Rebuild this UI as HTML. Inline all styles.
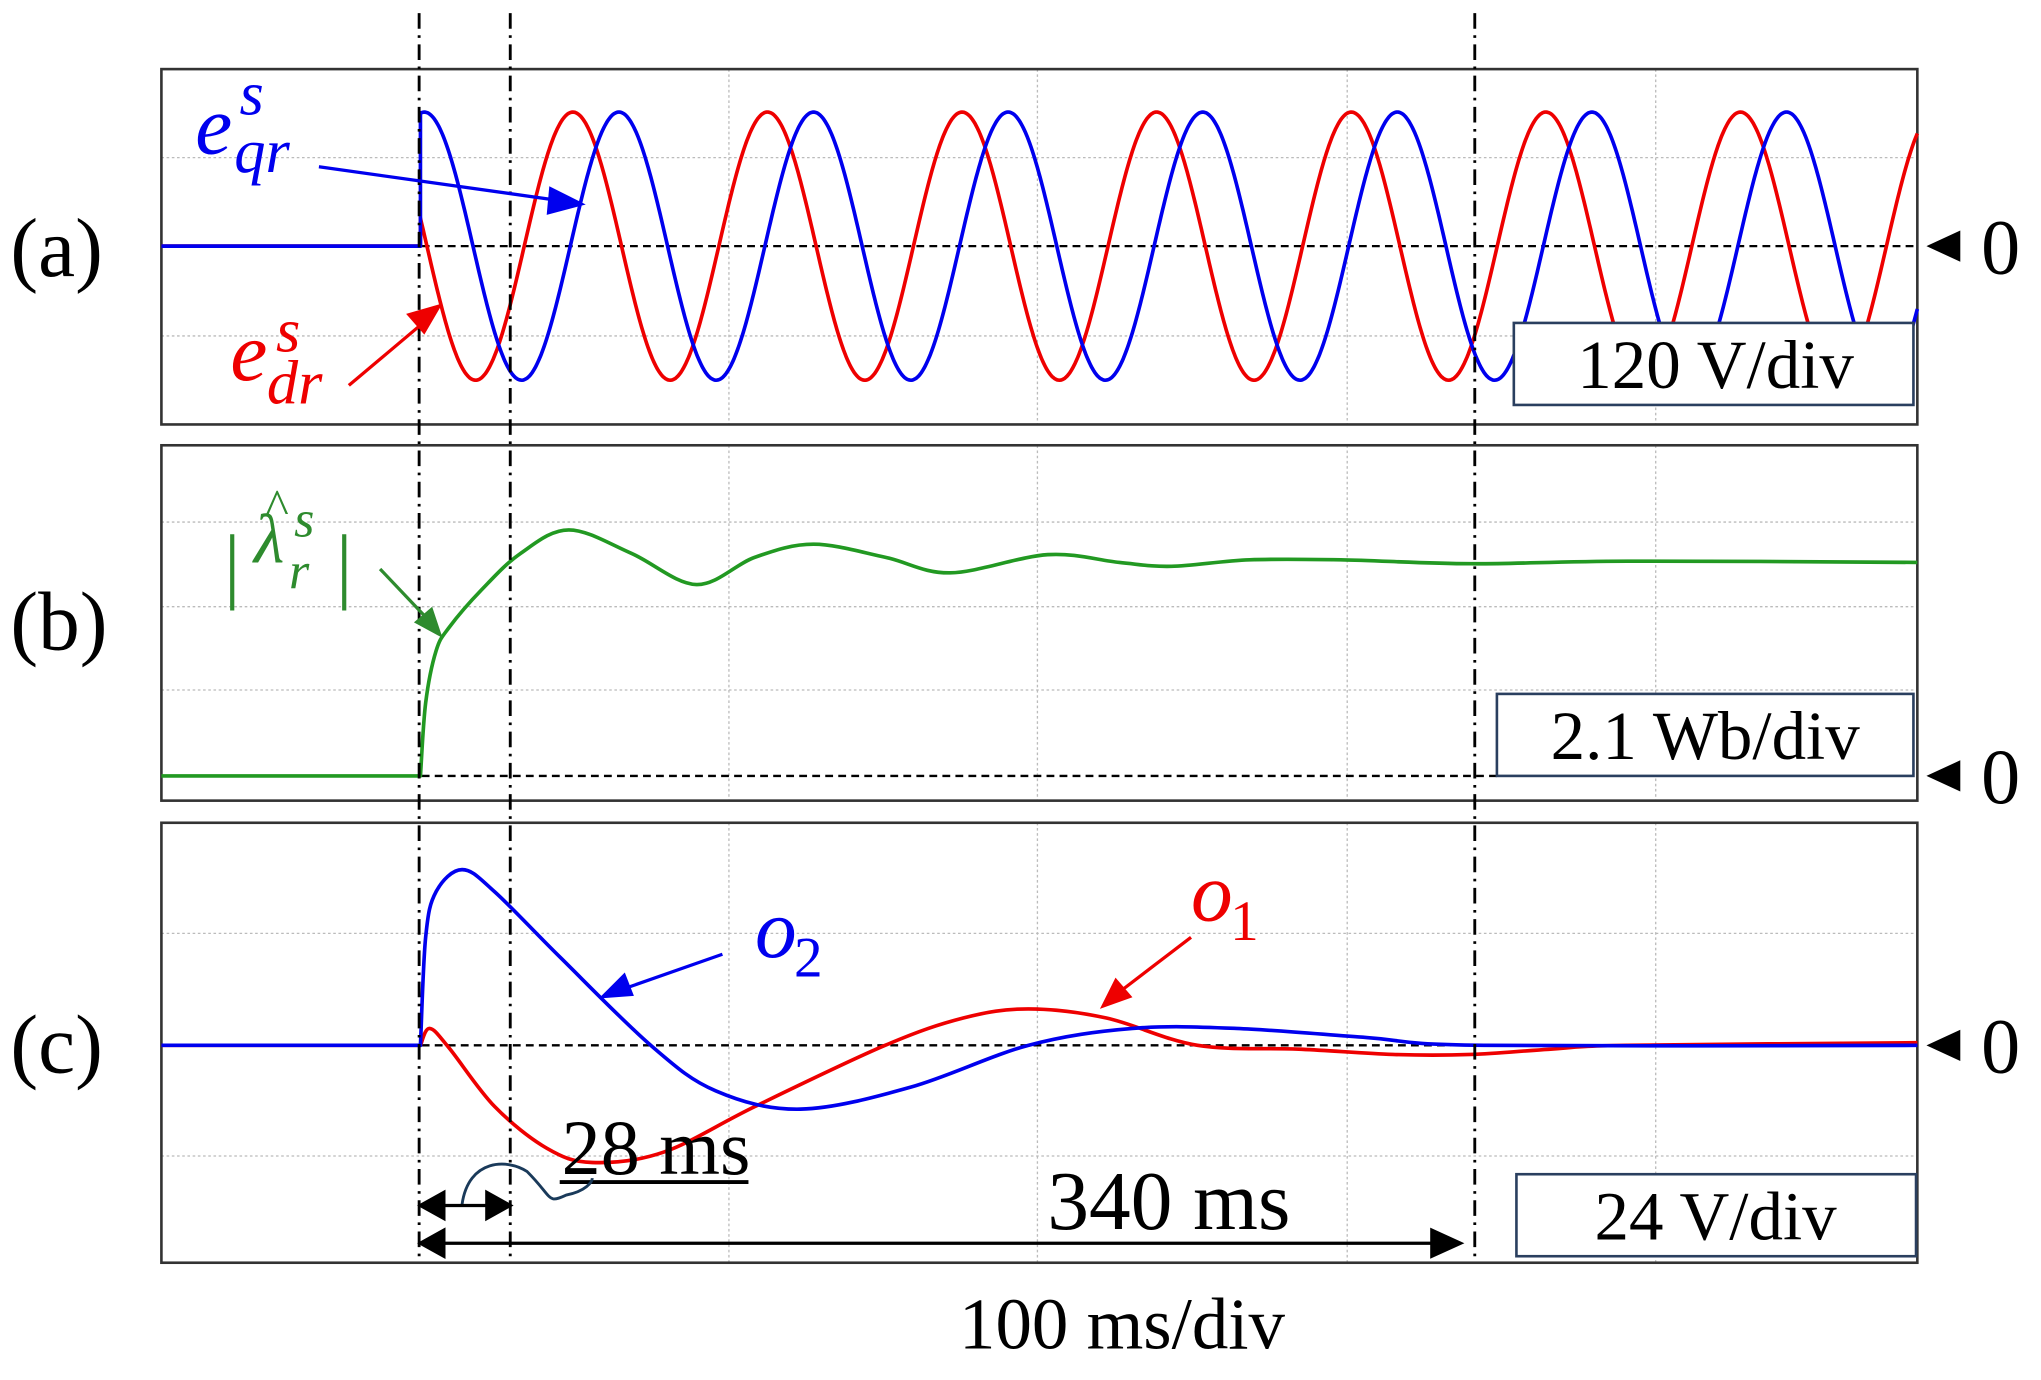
<!DOCTYPE html>
<html><head><meta charset="utf-8"><style>
html,body{margin:0;padding:0;background:#fff}
svg{display:block}
text{font-family:"Liberation Serif",serif}
</style></head><body>
<svg id="s" width="2041" height="1380" viewBox="0 0 1568 1060" xmlns="http://www.w3.org/2000/svg">
<g fill="none" stroke="#bbb" stroke-width="1" stroke-dasharray="2,2">
<path d="M124 121H1473M124 258H1473M124 401H1473M124 466H1473M124 530H1473M124 717H1473M124 888H1473"/>
<path d="M560 53V326M797 53V326M1035 53V326M1272 53V326M560 342V615M797 342V615M1035 342V615M1272 342V615M560 632V970M797 632V970M1035 632V970M1272 632V970"/>
</g>
<g fill="none" stroke="#000" stroke-width="1.8" stroke-dasharray="6,4">
<path d="M124 189H1473M124 596H1150M124 803H1473"/>
</g>
<g fill="none" stroke="#333" stroke-width="2">
<rect x="124" y="53" width="1349" height="273"/>
<rect x="124" y="342" width="1349" height="273"/>
<rect x="124" y="632" width="1349" height="338"/>
</g>
<g id="sig" fill="none" stroke-width="2.8" stroke-linejoin="round"></g>
<g fill="none" stroke="#000" stroke-width="2.2" stroke-dasharray="12,5,2,5">
<path d="M322 10V970M392 10V970M1133 10V970"/>
</g>
<g font-size="64" fill="#000">
<text x="8" y="212">(a)</text>
<text x="8" y="499">(b)</text>
<text x="8" y="824">(c)</text>
</g>
<g font-size="60">
<path d="M1480 189l26-12v24zM1480 596l26-12v24zM1480 803l26-12v24z" fill="#000"/>
<text x="1522" y="210">0</text>
<text x="1522" y="617">0</text>
<text x="1522" y="824">0</text>
</g>
<g fill="#fff" stroke="#2a3f5f" stroke-width="2">
<rect x="1163" y="248" width="307" height="63"/>
<rect x="1150" y="533" width="320" height="63"/>
<rect x="1165" y="902" width="307" height="63"/>
</g>
<g font-size="53" text-anchor="middle" fill="#000">
<text x="1318" y="298">120 V/div</text>
<text x="1310" y="583">2.1 Wb/div</text>
<text x="1318" y="952">24 V/div</text>
<text x="862" y="1036" font-size="56">100 ms/div</text>
<text x="898" y="944" font-size="64">340 ms</text>
<text x="504" y="902" font-size="60">28 ms</text>
</g>
<path d="M430 908H575" stroke="#000" stroke-width="3"/>
<path d="M355 925C360 890 390 890 405 900C425 920 420 925 435 918C450 915 455 908 455 905" fill="none" stroke="#1a3a5a" stroke-width="2.2"/>
<g stroke="#000" stroke-width="2.5" fill="#000">
<path d="M325 926H390"/><path d="M323 926l18-10v20zM392 926l-18-10v20z"/>
<path d="M325 955H1120"/><path d="M323 955l18-10v20zM1122 955l-22-10v20z"/>
</g>
<g font-style="italic" font-size="64" fill="#0000ee">
<text x="150" y="118">e</text><text x="184" y="88" font-size="48">s</text><text x="180" y="132" font-size="48">qr</text>
<text x="580" y="735">o</text><text x="610" y="750" font-size="44" font-style="normal">2</text>
</g>
<g font-style="italic" font-size="64" fill="#ee0000">
<text x="177" y="292">e</text><text x="212" y="270" font-size="48">s</text><text x="205" y="310" font-size="48">dr</text>
<text x="915" y="707">o</text><text x="945" y="722" font-size="44" font-style="normal">1</text>
</g>
<g fill="#2e8b2e" font-style="italic">
<text x="172" y="455" font-size="64" font-style="normal">|</text>
<text x="195" y="432" font-size="54">λ</text><text x="204" y="402" font-size="38" font-style="normal">^</text><text x="226" y="412" font-size="40">s</text><text x="222" y="452" font-size="40">r</text>
<text x="258" y="455" font-size="64" font-style="normal">|</text>
</g>
<g stroke-width="2.5">
<path d="M245 128L430 154" stroke="#0000ee"/><path d="M450 157l-28-14l-2 22z" fill="#0000ee"/>
<path d="M268 296L325 248" stroke="#ee0000"/><path d="M340 233l-28 8l14 16z" fill="#ee0000"/>
<path d="M555 733L478 760" stroke="#0000ee"/><path d="M460 767l20-20l7 18z" fill="#0000ee"/>
<path d="M915 720L860 762" stroke="#ee0000"/><path d="M845 775l12-24l13 15z" fill="#ee0000"/>
<path d="M292 437L328 475" stroke="#2e8b2e"/><path d="M340 490l-22-12l14-12z" fill="#2e8b2e"/>
</g>
</svg>
<script>
(function(){
var g=document.getElementById('sig');
function add(d,c){var p=document.createElementNS('http://www.w3.org/2000/svg','path');p.setAttribute('d',d);p.setAttribute('stroke',c);g.appendChild(p);}
var T=149.5,A=103,Z=189;
var b='M124 189H323',r='M124 189H323';
for(var x=323;x<=1473;x++){b+='L'+x+' '+(Z-A*Math.cos(2*Math.PI*(x-326)/T)).toFixed(1);r+='L'+x+' '+(Z+A*Math.sin(2*Math.PI*(x-328)/T)).toFixed(1);}
add(r,'#ee0000');add(b,'#0000ee');
function smooth(pts){var s='';for(var i=0;i<pts.length-1;i++){var p0=pts[i-1]||pts[i],p1=pts[i],p2=pts[i+1],p3=pts[i+2]||p2;
s+='C'+(p1[0]+(p2[0]-p0[0])/6).toFixed(1)+' '+(p1[1]+(p2[1]-p0[1])/6).toFixed(1)+' '+(p2[0]-(p3[0]-p1[0])/6).toFixed(1)+' '+(p2[1]-(p3[1]-p1[1])/6).toFixed(1)+' '+p2[0]+' '+p2[1];}return s;}
add('M124 596H323'+smooth([[323,596],[327,540],[335,500],[345,482],[370,453],[400,425],[437,407],[485,425],[535,449],[580,428],[625,418],[680,428],[730,440],[805,426],[860,432],[900,435],[960,430],[1030,430],[1130,433],[1250,431],[1473,432]]),'#229922');
add('M124 803H323'+smooth([[323,803],[330,790],[345,805],[380,850],[420,882],[455,893],[510,885],[580,850],[680,803],[740,782],[790,775],[850,782],[920,803],[1000,806],[1070,810],[1130,810],[1190,806],[1250,803],[1473,801]]),'#ee0000');
add('M124 803H323'+smooth([[323,803],[327,720],[335,685],[355,668],[380,685],[430,735],[500,803],[550,838],[615,852],[700,835],[790,803],[870,790],[950,790],[1050,797],[1140,803],[1473,803]]),'#0000ee');
})();
</script>
</body></html>
